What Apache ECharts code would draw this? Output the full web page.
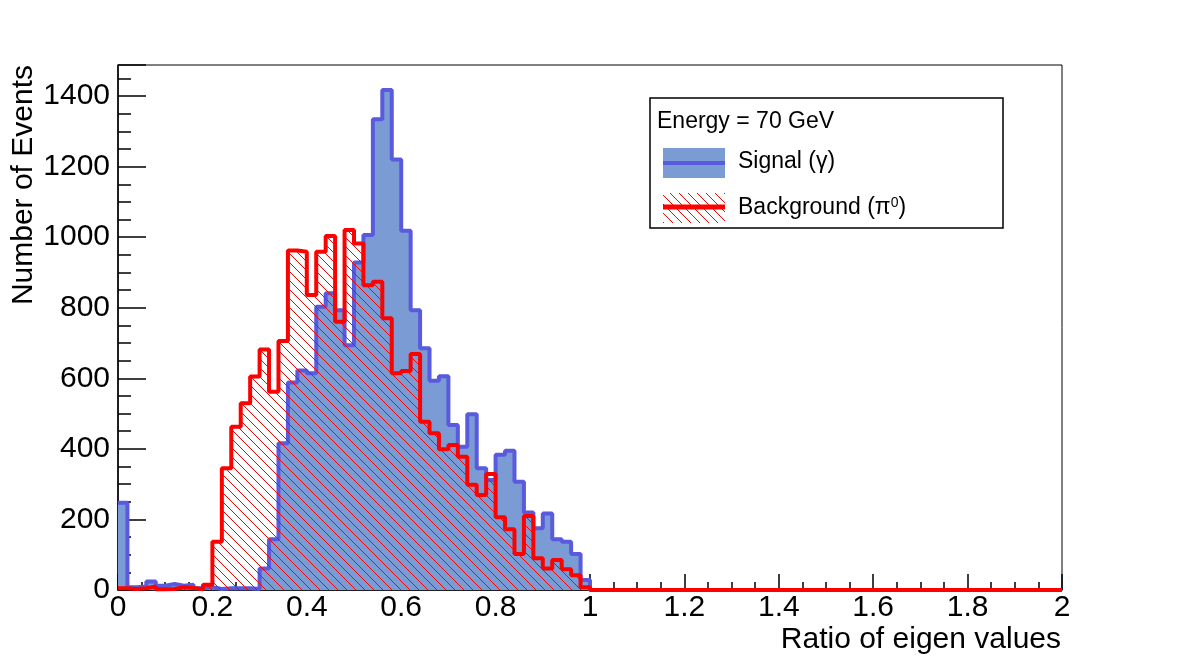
<!DOCTYPE html>
<html>
<head>
<meta charset="utf-8">
<script src="https://cdn.jsdelivr.net/npm/echarts@6/dist/echarts.min.js"></script>
<style>
  html, body { margin: 0; padding: 0; background: #fff; }
  #chart { width: 1182px; height: 657px; }
</style>
</head>
<body>
<div id="chart"></div>
<script>
// histogram binning: 100 bins on [0, 2]
const xMin = 0;
const xMax = 2;
const nBins = 100;

// Signal (gamma), counts per bin
const signal = [
  247, 8, 10, 24, 12, 17, 12, 15, 5, 8,
  3, 5, 5, 5, 3, 61, 144, 416, 588, 622,
  614, 803, 841, 793, 694, 928, 1006, 1334, 1417, 1220,
  1018, 793, 685, 593, 606, 468, 406, 498, 345, 312,
  383, 395, 307, 220, 175, 217, 144, 137, 102, 28,
  0, 0, 0, 0, 0, 0, 0, 0, 0, 0,
  0, 0, 0, 0, 0, 0, 0, 0, 0, 0,
  0, 0, 0, 0, 0, 0, 0, 0, 0, 0,
  0, 0, 0, 0, 0, 0, 0, 0, 0, 0,
  0, 0, 0, 0, 0, 0, 0, 0, 0, 0
];

// Background (pi0), counts per bin
const background = [
  5, 3, 5, 10, 2, 3, 8, 6, 2, 15,
  137, 345, 463, 529, 605, 682, 562, 706, 962, 959,
  836, 959, 1003, 760, 1020, 982, 864, 874, 770, 614,
  621, 669, 477, 444, 399, 411, 378, 298, 269, 329,
  206, 172, 102, 210, 90, 61, 85, 59, 42, 8,
  0, 0, 0, 0, 0, 0, 0, 0, 0, 0,
  0, 0, 0, 0, 0, 0, 0, 0, 0, 0,
  0, 0, 0, 0, 0, 0, 0, 0, 0, 0,
  0, 0, 0, 0, 0, 0, 0, 0, 0, 0,
  0, 0, 0, 0, 0, 0, 0, 0, 0, 0
];

const seriesNames = ["Signal (γ)", "Background (π0)"];
const legendHeader = "Energy = 70 GeV";
const xTitle = "Ratio of eigen values";
const yTitle = "Number of Events";

const font = "Liberation Sans";
const blueLine = "#5a5ade";
const blueFill = "#7b9bd5";
const red = "#ff0000";

// turn bin contents into step points (left edge of each bin + closing edge)
function toSteps(counts) {
  const w = (xMax - xMin) / nBins;
  const pts = counts.map((v, i) => [+(xMin + i * w).toFixed(4), v]);
  pts.push([xMax, counts[counts.length - 1]]);
  return pts;
}

function hatchCanvas(color, step) {
  const c = document.createElement("canvas");
  c.width = step;
  c.height = step;
  const ctx = c.getContext("2d");
  ctx.strokeStyle = color;
  ctx.lineWidth = 1;
  ctx.beginPath();
  for (let k = -1; k <= 1; k++) {
    ctx.moveTo(k * step, 0);
    ctx.lineTo(k * step + step, step);
  }
  ctx.stroke();
  return c;
}

const hatch = { image: hatchCanvas(red, 9), repeat: "repeat" };

const chart = echarts.init(document.getElementById("chart"));

chart.setOption({
  animation: false,
  grid: {
    left: 118,
    right: 120,
    top: 65,
    bottom: 67,
    show: true,
    borderColor: "#000",
    borderWidth: 1,
    backgroundColor: "#fff"
  },
  xAxis: {
    type: "value",
    min: xMin,
    max: xMax,
    interval: 0.2,
    axisLine: { onZero: false, lineStyle: { color: "#000", width: 1.5 } },
    axisTick: { inside: true, length: 16, lineStyle: { color: "#000", width: 1.5 } },
    minorTick: { show: true, splitNumber: 4, length: 8, lineStyle: { color: "#000", width: 1.5 } },
    splitLine: { show: false },
    axisLabel: { color: "#000", fontFamily: font, fontSize: 30, margin: 3 }
  },
  yAxis: {
    type: "value",
    min: 0,
    max: 1488,
    interval: 200,
    axisLine: { show: true, lineStyle: { color: "#000", width: 1.5 } },
    axisTick: { show: true, inside: true, length: 28, lineStyle: { color: "#000", width: 1.5 } },
    minorTick: { show: true, splitNumber: 4, length: 13, lineStyle: { color: "#000", width: 1.5 } },
    splitLine: { show: false },
    axisLabel: {
      color: "#000",
      fontFamily: font,
      fontSize: 30,
      margin: 8,
      formatter: v => (v % 200 === 0 ? String(v) : "")
    }
  },
  series: [
    {
      name: seriesNames[0],
      type: "line",
      step: "end",
      data: toSteps(signal),
      showSymbol: false,
      clip: false,
      lineStyle: { color: blueLine, width: 4 },
      areaStyle: { color: blueFill, opacity: 1 },
      z: 2
    },
    {
      name: seriesNames[1],
      type: "line",
      step: "end",
      data: toSteps(background),
      showSymbol: false,
      clip: false,
      lineStyle: { color: red, width: 4 },
      areaStyle: { color: hatch, opacity: 1 },
      z: 3
    }
  ],
  graphic: [
    {
      type: "text",
      x: 24,
      y: 65,
      rotation: Math.PI / 2,
      style: {
        text: yTitle,
        font: "30px '" + font + "'",
        fill: "#000",
        align: "right",
        verticalAlign: "middle"
      }
    },
    {
      type: "text",
      x: 1061,
      y: 640,
      style: {
        text: xTitle,
        font: "30px '" + font + "'",
        fill: "#000",
        align: "right",
        verticalAlign: "middle"
      }
    },
    // legend box
    {
      type: "rect",
      z: 10,
      shape: { x: 650, y: 98, width: 353, height: 130 },
      style: { fill: "#fff", stroke: "#000", lineWidth: 1.5 }
    },
    {
      type: "text",
      z: 11,
      x: 657,
      y: 122,
      style: { text: legendHeader, font: "23px '" + font + "'", fill: "#000", verticalAlign: "middle" }
    },
    {
      type: "rect",
      z: 11,
      shape: { x: 663, y: 148, width: 62, height: 30 },
      style: { fill: blueFill }
    },
    {
      type: "line",
      z: 12,
      shape: { x1: 663, y1: 163, x2: 725, y2: 163 },
      style: { stroke: blueLine, lineWidth: 4 }
    },
    {
      type: "text",
      z: 11,
      x: 738,
      y: 162,
      style: { text: "Signal (γ)", font: "23px '" + font + "'", fill: "#000", verticalAlign: "middle" }
    },
    {
      type: "rect",
      z: 11,
      shape: { x: 663, y: 193, width: 62, height: 30 },
      style: { fill: hatch }
    },
    {
      type: "line",
      z: 12,
      shape: { x1: 663, y1: 207, x2: 725, y2: 207 },
      style: { stroke: red, lineWidth: 5 }
    },
    {
      type: "text",
      z: 11,
      x: 738,
      y: 208,
      style: {
        text: "{a|Background (π}{s|0}{a|)}",
        fill: "#000",
        verticalAlign: "middle",
        rich: {
          a: { fontFamily: font, fontSize: 23, fill: "#000" },
          s: { fontFamily: font, fontSize: 14, fill: "#000", verticalAlign: "top", padding: [0, 0, 10, 0] }
        }
      }
    }
  ]
});
</script>
</body>
</html>
